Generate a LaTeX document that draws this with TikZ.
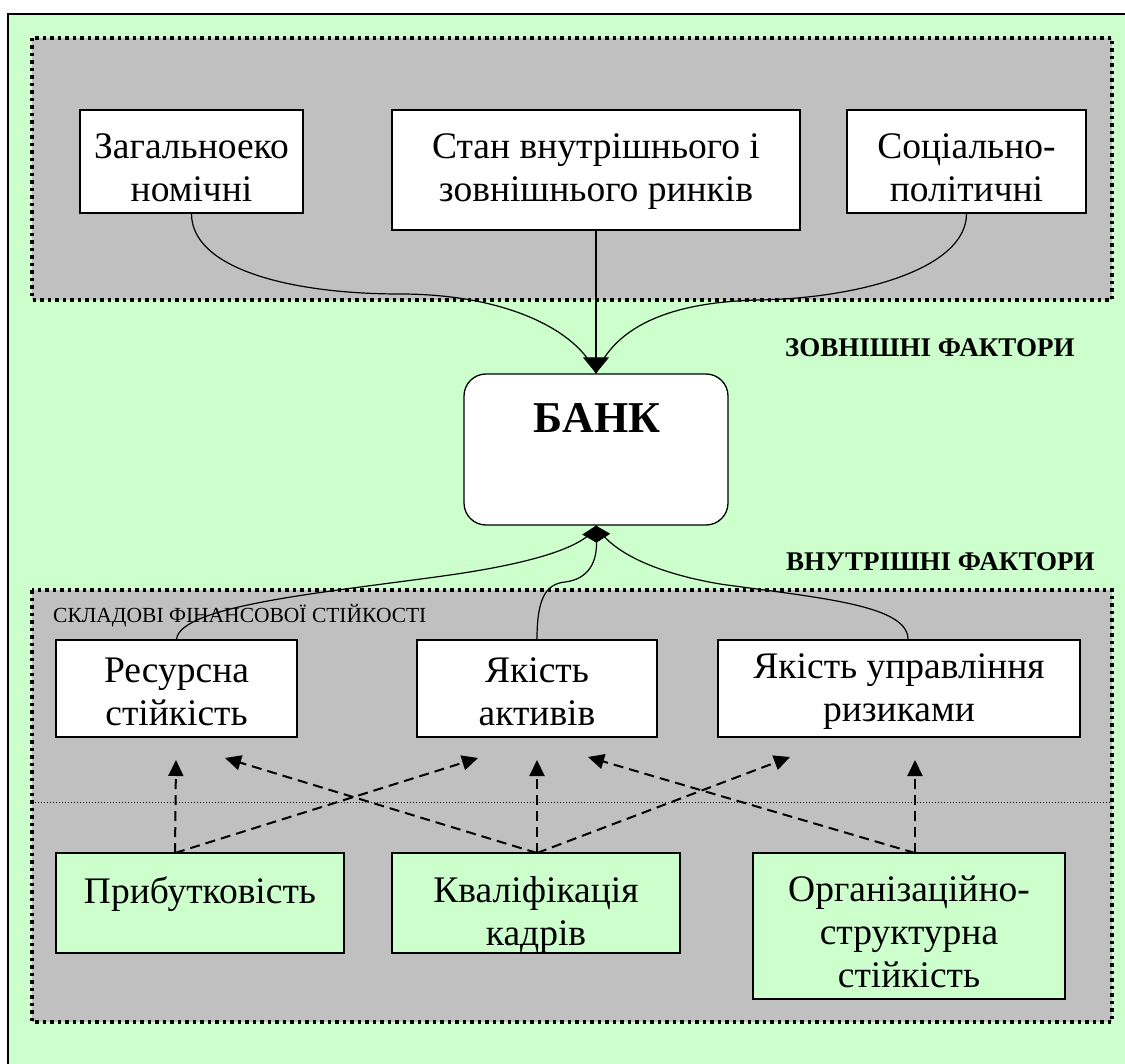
\documentclass[tikz,border=0pt]{standalone}
\usepackage{fontspec}
\setmainfont{Liberation Serif}
\usetikzlibrary{arrows.meta,fit}
\definecolor{bggreen}{HTML}{CCFFCC}
\definecolor{panelgray}{HTML}{C0C0C0}
\begin{document}
\begin{tikzpicture}[x=1pt,y=-1pt,
  panel/.style={fill=panelgray, draw=black, line width=3.5pt, dash pattern=on 3.5pt off 4pt},
  wbox/.style={draw=black, line width=1.3pt, fill=white, inner sep=0pt},
  gbox/.style={draw=black, line width=1.3pt, fill=bggreen, inner sep=0pt},
  txt/.style={align=center, inner sep=0pt, font=\fontsize{37.5}{43}\selectfont},
  heading/.style={inner sep=0pt, anchor=base west, font=\fontsize{27}{30}\selectfont\bfseries},
  link/.style={line width=1.2pt},
  infl/.style={line width=2pt, dash pattern=on 10pt off 6pt, -{Triangle[width=15pt,length=16pt]}}
]
\clip (0,0) rectangle (1125,1064);
% page background and outer frame
\fill[white] (0,0) rectangle (1125,1064);
\draw[fill=bggreen, line width=1.5pt] (8,14) rectangle (1140,1080);

% external factors panel
\draw[panel] (32,38) rectangle (1112,300);
\node[wbox, fit={(80,110) (303,213)}] (b1) {};
\node[wbox, fit={(392,110) (800,230)}] (b2) {};
\node[wbox, fit={(847,110) (1086,213)}] (b3) {};
\node[txt, anchor=north] (t1) at (191.5,133) {Загальноеко\\номічні};
\node[txt, anchor=north] (t2) at (596,133) {Стан внутрішнього і\\зовнішнього ринків};
\node[txt, anchor=north] (t3) at (966.5,133) {Соціально-\\політичні};

% internal factors panel
\draw[panel] (32,590) rectangle (1112,1022);
\draw[line width=1pt, dash pattern=on 1pt off 2pt] (32,802) -- (1112,802);
\node[inner sep=0pt, anchor=base west, font=\fontsize{21.5}{24}\selectfont] (lbl) at (53,622) {СКЛАДОВІ ФІНАНСОВОЇ СТІЙКОСТІ};

\node[wbox, fit={(56,640) (297,737)}] (m1) {};
\node[wbox, fit={(417,640) (657,737)}] (m2) {};
\node[wbox, fit={(718,640) (1080,737)}] (m3) {};
\node[txt] (u1) at (176.5,692) {Ресурсна\\стійкість};
\node[txt] (u2) at (537,692) {Якість\\активів};
\node[txt] (u3) at (899,692) {Якість управління\\ризиками};

\node[gbox, fit={(56,853) (344,953)}] (p1) {};
\node[gbox, fit={(392,853) (680,953)}] (p2) {};
\node[gbox, fit={(753,853) (1065,999)}] (p3) {};
\node[txt, anchor=north] (v1) at (200,876) {Прибутковість};
\node[txt, anchor=north] (v2) at (536,876) {Кваліфікація\\кадрів};
\node[txt, anchor=north] (v3) at (909,876) {Організаційно-\\структурна\\стійкість};

% bank
\node[draw=black, line width=1.3pt, fill=white, rounded corners=22pt, inner sep=0pt,
      fit={(464,374) (728,525)}] (bank) {};
\node[inner sep=0pt, anchor=base, font=\fontsize{44}{50}\selectfont\bfseries] (bankt) at (597,433) {БАНК};

% headings
\node[heading] (h1) at (785,357) {ЗОВНІШНІ ФАКТОРИ};
\node[heading] (h2) at (786,570) {ВНУТРІШНІ ФАКТОРИ};

% external influences on the bank
\draw[link] (b1.south) .. controls +(0,55) and (290,294) .. (400,294)
            .. controls (505,294) and (578,330) .. (bank.north);
\draw[link] (b3.south) .. controls +(0,55) and (860,298) .. (760,300)
            .. controls (655,302) and (612,335) .. (bank.north);
\draw[link, -{Triangle[width=26pt,length=16pt]}] (b2.south) -- (bank.north);

% internal components feeding the bank
\draw[link] (m1.north) .. controls (180,605) and (330,592) .. (450,575)
            .. controls (540,562) and (588,545) .. (bank.south);
\draw[link] ([xshift=9pt]m3.north) .. controls (908,605) and (820,598) .. (720,584)
            .. controls (650,572) and (610,550) .. (bank.south);
\draw[link, -{Diamond[width=28pt,length=17pt]}] (m2.north) .. controls (537,600) and (545,584) .. (565,582)
            .. controls (590,579) and (597,560) .. (bank.south);

% supporting factors (dashed)
\coordinate (e1) at (176,760);
\coordinate (e2) at (478,758);
\coordinate (e3) at (225,758);
\coordinate (e4) at (537,760);
\coordinate (e5) at (790,757);
\coordinate (e6) at (588,757);
\coordinate (e7) at (915,760);
\coordinate (s1) at (175,853);
\coordinate (s2) at (537,853);
\coordinate (s3) at (915,853);
\draw[infl] (s1) -- (e1);
\draw[infl] (s1) -- (e2);
\draw[infl] (s2) -- (e3);
\draw[infl] (s2) -- (e4);
\draw[infl] (s2) -- (e5);
\draw[infl] (s3) -- (e6);
\draw[infl] (s3) -- (e7);
\end{tikzpicture}
\end{document}
